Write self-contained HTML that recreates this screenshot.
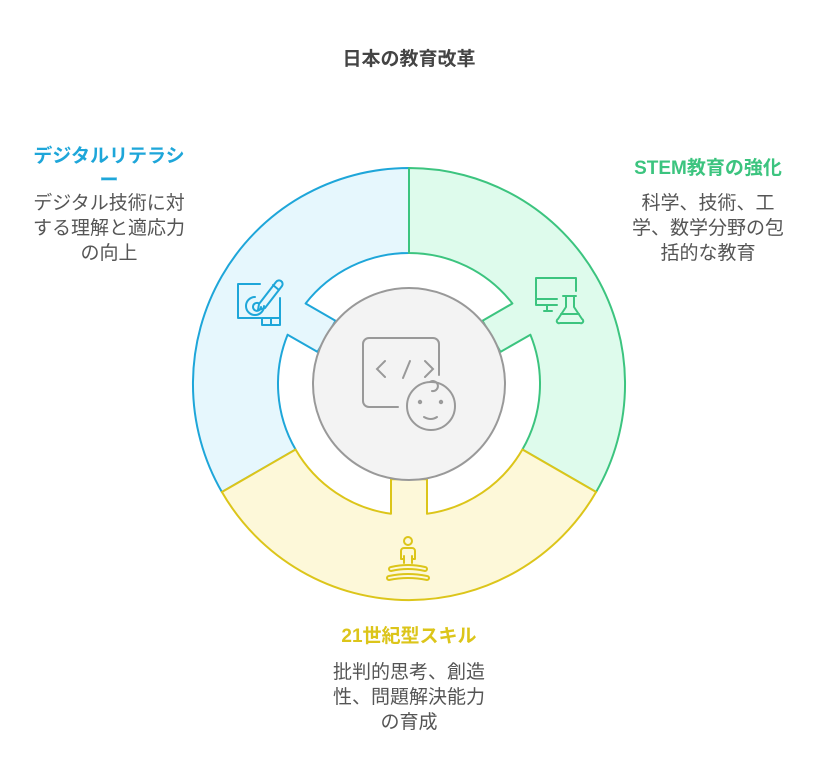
<!DOCTYPE html>
<html><head><meta charset="utf-8"><style>
html,body{margin:0;padding:0;background:#fff;}
body{width:818px;height:782px;position:relative;overflow:hidden;font-family:"Liberation Sans","Noto Sans CJK JP",sans-serif;}
.t{position:absolute;text-align:center;white-space:nowrap;}
.h{font-weight:bold;font-size:19px;line-height:24px;}
.b{font-size:19px;line-height:25px;color:#555;}
</style></head><body>
<svg id="s" width="818" height="782" style="position:absolute;left:0;top:0"></svg>
<div class="t h" style="left:309px;top:48px;width:200px;color:#444">日本の教育改革</div>
<div class="t h" style="left:9px;top:145px;width:200px;color:#1ea6d9">デジタルリテラシ<br>ー</div>
<div class="t b" style="left:9px;top:191px;width:200px">デジタル技術に対<br>する理解と適応力<br>の向上</div>
<div class="t h" style="left:608px;top:157px;width:200px;color:#3cc47f">STEM教育の強化</div>
<div class="t b" style="left:608px;top:191px;width:200px">科学、技術、工<br>学、数学分野の包<br>括的な教育</div>
<div class="t h" style="left:309px;top:625px;width:200px;color:#dcc51a">21世紀型スキル</div>
<div class="t b" style="left:309px;top:660px;width:200px">批判的思考、創造<br>性、問題解決能力<br>の育成</div>
<script>
var cx=409,cy=384,R=216,r=131,rc=97,hw=18;
function P(a,rad){a=a*Math.PI/180;return [cx+rad*Math.cos(a),cy-rad*Math.sin(a)];}
function T(a,rad,side){var A=a*Math.PI/180;var t=Math.sqrt(rad*rad-hw*hw);
 var u=[Math.cos(A),-Math.sin(A)],n=[-Math.sin(A),-Math.cos(A)];
 return [cx+t*u[0]+side*hw*n[0],cy+t*u[1]+side*hw*n[1]];}
function f(p){return p[0].toFixed(1)+","+p[1].toFixed(1);}
function seg(a0,a1,tab){
 var o0=P(a0,R),o1=P(a1,R),i1=P(a1,r),i0=P(a0,r);
 var t1=T(tab,r,1),t2=T(tab,rc,1),t3=T(tab,rc,-1),t4=T(tab,r,-1);
 return "M"+f(o0)+" A"+R+","+R+" 0 0 0 "+f(o1)+" L"+f(i1)+" A"+r+","+r+" 0 0 1 "+f(t1)+
 " L"+f(t2)+" L"+f(t3)+" L"+f(t4)+" A"+r+","+r+" 0 0 1 "+f(i0)+" Z";}
var h='';
h+='<path d="'+seg(90,210,150)+'" fill="#e6f7fd" stroke="#1ea6d9" stroke-width="2" stroke-linejoin="round"/>';
h+='<path d="'+seg(-30,90,30)+'" fill="#defbec" stroke="#3cc47f" stroke-width="2" stroke-linejoin="round"/>';
h+='<path d="'+seg(210,330,270)+'" fill="#fdf8d9" stroke="#dcc51a" stroke-width="2" stroke-linejoin="round"/>';
h+='<circle cx="409" cy="384" r="96" fill="#f3f3f3" stroke="#999" stroke-width="2"/>';
// center icon
h+='<g fill="none" stroke="#999" stroke-width="2" stroke-linecap="round">'+
'<path d="M398,407 H369 a6,6 0 0 1 -6,-6 V344 a6,6 0 0 1 6,-6 H433 a6,6 0 0 1 6,6 V375"/>'+
'<path d="M385,361 l-8,8 l8,8 M425,361 l8,8 l-8,8 M410,361 l-7,17"/>'+
'<circle cx="431" cy="406" r="24"/><path d="M430,382 a5,5 0 1 1 2,9"/>'+
'<circle cx="420" cy="402" r="1.2"/><circle cx="441" cy="402" r="1.2"/><path d="M424,417 q7,4 13,0"/></g>';
// blue icon
h+='<g fill="none" stroke="#1ea6d9" stroke-width="2" stroke-linecap="round" stroke-linejoin="round">'+
'<path d="M261,318 H238 V284 H260 M280,298 V318 H262 V325 H280 V318 M271,318 V325"/>'+
'<path d="M255,297 a9,9 0 1 0 9,9 M258,303 a4,4 0 1 0 3,4"/>'+
'<path d="M259,304 L276,282 a3,3 0 0 1 6,4 L265,308 L258,310 Z M273,285 L279,290"/></g>';
// green icon
h+='<g fill="none" stroke="#3cc47f" stroke-width="2" stroke-linecap="round" stroke-linejoin="round">'+
'<path d="M557,305 H536 V278 H576 V291 M536,299 H557 M547,305 V310 M544,311 H552"/>'+
'<path d="M563,296 H576 M566,296 V307 L558,319 a2,2 0 0 0 2,4 H580 a2,2 0 0 0 2,-4 L574,307 V296 M561,314 H579"/></g>';
// yellow icon
h+='<g fill="none" stroke="#dcc51a" stroke-width="2" stroke-linecap="round" stroke-linejoin="round">'+
'<circle cx="408" cy="541" r="4"/><path d="M404,563 V559 h-3 V551 a3,3 0 0 1 3,-3 H412 a3,3 0 0 1 3,3 V559 h-3 V563 M404,556 V563 M412,556 V563"/>'+
'<path d="M391,567 q17,-4 34,0 a2,2 0 0 1 0,4 q-17,-4 -34,0 a2,2 0 0 1 0,-4 M389,576 q19,-4 38,0 a2,2 0 0 1 0,4 q-19,-4 -38,0 a2,2 0 0 1 0,-4"/></g>';
document.getElementById('s').innerHTML=h;
</script>
</body></html>
